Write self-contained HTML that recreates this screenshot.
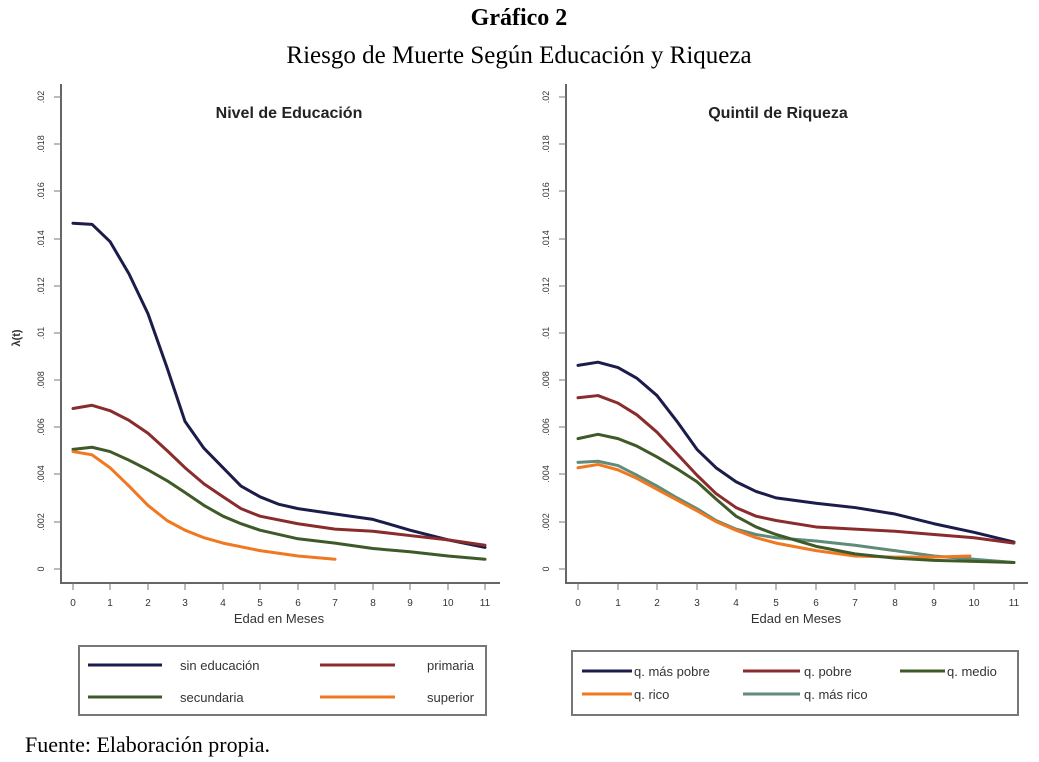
<!DOCTYPE html>
<html><head><meta charset="utf-8"><style>
body{margin:0;background:#fff;width:1039px;height:762px;overflow:hidden}
svg{display:block}
.s{font-family:"Liberation Serif",serif;fill:#000}
.a{font-family:"Liberation Sans",sans-serif;fill:#333}
</style></head><body>
<svg width="1039" height="762" viewBox="0 0 1039 762">
<text class="s" x="519" y="25" text-anchor="middle" font-size="24" font-weight="bold">Gráfico 2</text>
<text class="s" x="519" y="63" text-anchor="middle" font-size="25">Riesgo de Muerte Según Educación y Riqueza</text>
<text class="s" x="25" y="752" font-size="22">Fuente: Elaboración propia.</text>

<g stroke="#666" stroke-width="2" fill="none">
<path d="M61 84V583H500"/>
<path d="M566 84V583H1028"/>
</g>
<g stroke="#777" stroke-width="1">
<path d="M54 569H61M54 522H61M54 474H61M54 427H61M54 380H61M54 333H61M54 286H61M54 239H61M54 191H61M54 144H61M54 97H61"/>
<path d="M559 569H566M559 522H566M559 474H566M559 427H566M559 380H566M559 333H566M559 286H566M559 239H566M559 191H566M559 144H566M559 97H566"/>
<path d="M73 583v7M110 583v7M148 583v7M185 583v7M223 583v7M260 583v7M298 583v7M335 583v7M373 583v7M410 583v7M448 583v7M485 583v7"/>
<path d="M578 583v7M618 583v7M657 583v7M697 583v7M736 583v7M776 583v7M816 583v7M855 583v7M895 583v7M934 583v7M974 583v7M1014 583v7"/>
</g>
<g class="a" font-size="9" text-anchor="middle">
<text transform="translate(44,569) rotate(-90)">0</text>
<text transform="translate(44,522) rotate(-90)">.002</text>
<text transform="translate(44,474) rotate(-90)">.004</text>
<text transform="translate(44,427) rotate(-90)">.006</text>
<text transform="translate(44,380) rotate(-90)">.008</text>
<text transform="translate(44,333) rotate(-90)">.01</text>
<text transform="translate(44,286) rotate(-90)">.012</text>
<text transform="translate(44,239) rotate(-90)">.014</text>
<text transform="translate(44,191) rotate(-90)">.016</text>
<text transform="translate(44,144) rotate(-90)">.018</text>
<text transform="translate(44,97) rotate(-90)">.02</text>
<text transform="translate(549,569) rotate(-90)">0</text>
<text transform="translate(549,522) rotate(-90)">.002</text>
<text transform="translate(549,474) rotate(-90)">.004</text>
<text transform="translate(549,427) rotate(-90)">.006</text>
<text transform="translate(549,380) rotate(-90)">.008</text>
<text transform="translate(549,333) rotate(-90)">.01</text>
<text transform="translate(549,286) rotate(-90)">.012</text>
<text transform="translate(549,239) rotate(-90)">.014</text>
<text transform="translate(549,191) rotate(-90)">.016</text>
<text transform="translate(549,144) rotate(-90)">.018</text>
<text transform="translate(549,97) rotate(-90)">.02</text>
<text transform="translate(20,338) rotate(-90)" font-size="11" font-weight="bold">λ(t)</text>
</g>
<g class="a" font-size="10" text-anchor="middle">
<text x="73" y="606">0</text><text x="110" y="606">1</text><text x="148" y="606">2</text><text x="185" y="606">3</text><text x="223" y="606">4</text><text x="260" y="606">5</text><text x="298" y="606">6</text><text x="335" y="606">7</text><text x="373" y="606">8</text><text x="410" y="606">9</text><text x="448" y="606">10</text><text x="485" y="606">11</text>
<text x="578" y="606">0</text><text x="618" y="606">1</text><text x="657" y="606">2</text><text x="697" y="606">3</text><text x="736" y="606">4</text><text x="776" y="606">5</text><text x="816" y="606">6</text><text x="855" y="606">7</text><text x="895" y="606">8</text><text x="934" y="606">9</text><text x="974" y="606">10</text><text x="1014" y="606">11</text>
<text x="279" y="623" font-size="13">Edad en Meses</text>
<text x="796" y="623" font-size="13">Edad en Meses</text>
<text x="289" y="118" font-size="16" font-weight="bold" fill="#222">Nivel de Educación</text>
<text x="778" y="118" font-size="16" font-weight="bold" fill="#222">Quintil de Riqueza</text>
</g>

<g fill="none" stroke-width="3" stroke-linejoin="round" stroke-linecap="round" transform="translate(0,80) scale(1,1.077) translate(0,-80)">
<g vector-effect="non-scaling-stroke">
<polyline vector-effect="non-scaling-stroke" stroke="#1c1c4a" points="73,213 92,214 110,230 129,260 148,297 167,347 185,397 204,422 223,440 241,457 260,467 279,474 298,478 335,483 373,488 410,498 448,507 485,514"/>
<polyline vector-effect="non-scaling-stroke" stroke="#8a2c2c" points="73,385 92,382 110,387 129,396 148,408 167,424 185,440 204,455 223,467 241,478 260,485 298,492 335,497 373,499 410,503 448,507 485,512"/>
<polyline vector-effect="non-scaling-stroke" stroke="#3d5a28" points="73,423 92,421 110,425 129,433 148,442 167,452 185,463 204,475 223,485 241,492 260,498 298,506 335,510 373,515 410,518 448,522 485,525"/>
<polyline vector-effect="non-scaling-stroke" stroke="#f07820" points="73,425 92,428 110,440 129,457 148,475 167,489 185,498 204,505 223,510 260,517 298,522 335,525"/>

<polyline vector-effect="non-scaling-stroke" stroke="#1c1c4a" points="578,345 598,342 618,347 637,357 657,373 677,397 697,423 716,440 736,453 756,462 776,468 816,473 855,477 895,483 934,492 974,500 1014,509"/>
<polyline vector-effect="non-scaling-stroke" stroke="#8a2c2c" points="578,375 598,373 618,380 637,391 657,407 677,427 697,447 716,464 736,477 756,485 776,489 816,495 855,497 895,499 934,502 974,505 1014,510"/>
<polyline vector-effect="non-scaling-stroke" stroke="#5f8b78" points="578,435 598,434 618,438 637,447 657,457 677,468 697,478 716,489 736,497 756,502 776,505 816,508 855,512 895,517 934,522 974,525 1014,528"/>
<polyline vector-effect="non-scaling-stroke" stroke="#f07820" points="578,440 598,437 618,442 637,450 657,460 677,470 697,480 716,490 736,498 756,505 776,510 816,517 855,522 895,523 934,523 970,522"/>
<polyline vector-effect="non-scaling-stroke" stroke="#3d5a28" points="578,413 598,409 618,413 637,420 657,430 677,441 697,453 716,469 736,485 756,495 776,502 816,513 855,520 895,524 934,526 974,527 1014,528"/>
</g>
</g>

<rect x="79" y="646" width="407" height="69" fill="none" stroke="#777" stroke-width="2"/>
<rect x="572" y="651" width="446" height="64" fill="none" stroke="#777" stroke-width="2"/>
<g stroke-width="3">
<path d="M88 665H162" stroke="#1c1c4a"/><path d="M320 665H395" stroke="#8a2c2c"/>
<path d="M88 697H162" stroke="#3d5a28"/><path d="M320 697H395" stroke="#f07820"/>
<path d="M582 671H632" stroke="#1c1c4a"/><path d="M743 671H800" stroke="#8a2c2c"/><path d="M900 671H945" stroke="#3d5a28"/>
<path d="M582 694H632" stroke="#f07820"/><path d="M743 694H800" stroke="#5f8b78"/>
</g>
<g class="a" font-size="13" fill="#222">
<text x="180" y="670">sin educación</text><text x="474" y="670" text-anchor="end">primaria</text>
<text x="180" y="702">secundaria</text><text x="474" y="702" text-anchor="end">superior</text>
<text x="634" y="676">q. más pobre</text><text x="804" y="676">q. pobre</text><text x="947" y="676">q. medio</text>
<text x="634" y="699">q. rico</text><text x="804" y="699">q. más rico</text>
</g>
</svg>
</body></html>
